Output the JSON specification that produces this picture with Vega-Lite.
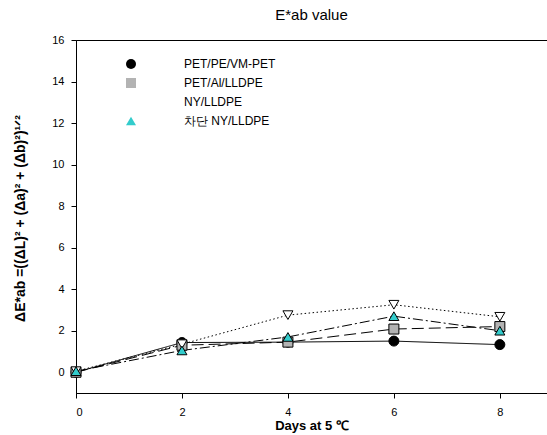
{
  "$schema": "https://vega.github.io/schema/vega-lite/v6.json",
  "width": 471,
  "height": 353,
  "autosize": "none",
  "padding": {"left": 76, "top": 40, "right": 0, "bottom": 42},
  "background": "white",
  "title": {"text": "E*ab value", "font": "Liberation Sans", "fontSize": 15, "fontWeight": "normal", "color": "black", "anchor": "middle", "offset": 11},
  "data": {"values": [
    {"day": 0, "series": "PET/PE/VM-PET", "value": 0.0},
    {"day": 2, "series": "PET/PE/VM-PET", "value": 1.43},
    {"day": 4, "series": "PET/PE/VM-PET", "value": 1.45},
    {"day": 6, "series": "PET/PE/VM-PET", "value": 1.5},
    {"day": 8, "series": "PET/PE/VM-PET", "value": 1.33},
    {"day": 0, "series": "PET/Al/LLDPE", "value": 0.0},
    {"day": 2, "series": "PET/Al/LLDPE", "value": 1.3},
    {"day": 4, "series": "PET/Al/LLDPE", "value": 1.45},
    {"day": 6, "series": "PET/Al/LLDPE", "value": 2.08},
    {"day": 8, "series": "PET/Al/LLDPE", "value": 2.2},
    {"day": 0, "series": "NY/LLDPE", "value": 0.05},
    {"day": 2, "series": "NY/LLDPE", "value": 1.35},
    {"day": 4, "series": "NY/LLDPE", "value": 2.75},
    {"day": 6, "series": "NY/LLDPE", "value": 3.25},
    {"day": 8, "series": "NY/LLDPE", "value": 2.67},
    {"day": 0, "series": "차단 NY/LLDPE", "value": 0.05},
    {"day": 2, "series": "차단 NY/LLDPE", "value": 1.05},
    {"day": 4, "series": "차단 NY/LLDPE", "value": 1.7},
    {"day": 6, "series": "차단 NY/LLDPE", "value": 2.7},
    {"day": 8, "series": "차단 NY/LLDPE", "value": 2.0}
  ]},
  "encoding": {
    "x": {"field": "day", "type": "quantitative",
      "scale": {"domain": [0, 8.89], "nice": false, "zero": false},
      "axis": {"values": [0, 2, 4, 6, 8], "title": "Days at 5 ℃", "grid": false,
        "labelFont": "Liberation Sans", "labelFontSize": 11, "labelColor": "black", "labelPadding": 8,
        "tickSize": 5, "tickColor": "black", "domainColor": "black",
        "titleFont": "Liberation Sans", "titleFontSize": 13, "titleFontWeight": "bold", "titleColor": "black",
        "titleY": 32, "titleBaseline": "middle"}},
    "y": {"field": "value", "type": "quantitative",
      "scale": {"domain": [-1, 16], "nice": false, "zero": false},
      "axis": {"values": [0, 2, 4, 6, 8, 10, 12, 14, 16], "grid": false,
        "title": "ΔE*ab =((ΔL)² + (Δa)² + (Δb)²)¹ᐟ²",
        "labelFont": "Liberation Sans", "labelFontSize": 11, "labelColor": "black", "labelPadding": 7,
        "tickSize": 5, "tickColor": "black", "domainColor": "black",
        "titleFont": "Liberation Sans", "titleFontSize": 14, "titleFontWeight": "bold", "titleColor": "black",
        "titleX": -56, "titleY": 178, "titleAlign": "center", "titleBaseline": "middle", "titleAngle": -90}}
  },
  "layer": [
    {
      "mark": {"type": "line", "color": "black", "strokeWidth": 1},
      "encoding": {
        "strokeDash": {"field": "series", "type": "nominal",
          "sort": ["PET/PE/VM-PET", "PET/Al/LLDPE", "NY/LLDPE", "차단 NY/LLDPE"],
          "scale": {"range": [[1, 0], [12, 5], [1.5, 2.5], [10, 3, 2, 3]]},
          "legend": null}
      }
    },
    {
      "mark": {"type": "point", "filled": true, "stroke": "black", "strokeWidth": 1, "opacity": 1},
      "encoding": {
        "shape": {"field": "series", "type": "nominal",
          "scale": {"domain": ["PET/PE/VM-PET", "PET/Al/LLDPE", "NY/LLDPE", "차단 NY/LLDPE"],
            "range": ["circle", "square", "triangle-down", "triangle-up"]},
          "legend": {
            "title": null, "orient": "none", "legendX": 49, "legendY": 18, "padding": 0,
            "symbolSize": 100, "symbolStrokeWidth": 1, "symbolStrokeColor": "black", "rowPadding": 5, "labelOffset": 47,
            "labelFont": "Liberation Sans", "labelFontSize": 12, "labelColor": "black"
          }},
        "fill": {"field": "series", "type": "nominal",
          "scale": {"domain": ["PET/PE/VM-PET", "PET/Al/LLDPE", "NY/LLDPE", "차단 NY/LLDPE"],
            "range": ["black", "#b3b3b3", "white", "#33cccc"]}},
        "size": {"value": 100}
      }
    }
  ],
  "config": {
    "view": {"stroke": "black", "strokeWidth": 1},
    "font": "Liberation Sans"
  }
}
